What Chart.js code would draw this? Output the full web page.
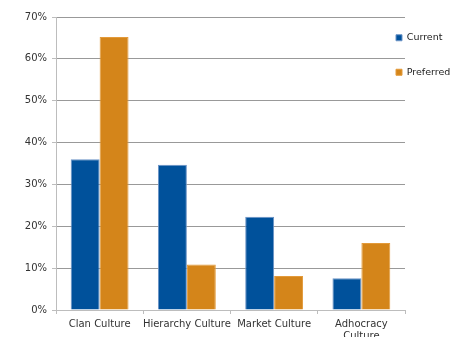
<!DOCTYPE html>
<html>
<head>
<meta charset="utf-8">
<script src="https://cdn.jsdelivr.net/npm/chart.js@4"></script>
<style>
  html, body { margin: 0; padding: 0; background: #fff; }
  #wrap { width: 450px; height: 337px; }
</style>
</head>
<body>
<div id="wrap"><canvas id="cultureChart" width="450" height="337"></canvas></div>
<script>
const categories = ['Clan Culture', 'Hierarchy Culture', 'Market Culture', ['Adhocracy', 'Culture']]
const current = [36, 34.7, 22.3, 7.6]
const preferred = [65.2, 10.9, 8.1, 16]
const yTicks = [0, 10, 20, 30, 40, 50, 60, 70]

// pull the legend back over the right edge of the plot, like the original
const legendShift = {
    id: 'legendShift',
    beforeLayout(chart) {
        const lg = chart.legend
        if (lg && !lg._wrapped) {
            const fit = lg.fit.bind(lg)
            lg.fit = function () { fit(); this.width = 45 }
            lg._wrapped = true
        }
    },
    afterLayout(chart) {
        const lg = chart.legend
        const pad = lg.options.labels.padding
        lg.left = chart.chartArea.right - 9 - pad
        lg.right = chart.width
        lg.top = 8
        lg.bottom = chart.height
    }
}

new Chart(document.getElementById('cultureChart'), {
    type: 'bar',
    data: {
        labels: categories,
        datasets: [
            {
                label: 'Current',
                data: current,
                backgroundColor: '#00519b',
                borderColor: '#6b93c6',
                borderWidth: 1
            },
            {
                label: 'Preferred',
                data: preferred,
                backgroundColor: '#d4851a',
                borderColor: '#e39a3a',
                borderWidth: 1
            }
        ]
    },
    options: {
        responsive: false,
        animation: false,
        layout: { padding: { top: 17, left: 0, right: 0, bottom: 0 } },
        datasets: { bar: { categoryPercentage: 0.663, barPercentage: 1.0 } },
        scales: {
            x: {
                offset: true,
                grid: { display: true, drawOnChartArea: false, offset: true, tickLength: 4, color: '#bdbdbd' },
                border: { color: '#bdbdbd' },
                ticks: { color: '#333', padding: 4, maxRotation: 0, autoSkip: false, font: { family: 'DejaVu Sans', size: 10 } },
                afterFit(scale) { scale.height = 27 }
            },
            y: {
                min: 0,
                max: 70,
                afterBuildTicks(scale) { scale.ticks = yTicks.map(v => ({ value: v })) },
                grid: { color: '#999', tickLength: 4, tickColor: '#bdbdbd' },
                border: { color: '#bdbdbd' },
                ticks: {
                    color: '#333',
                    padding: 5,
                    font: { family: 'DejaVu Sans', size: 10 },
                    callback: v => v + '%'
                },
                afterFit(scale) { scale.width = 56 }
            }
        },
        plugins: {
            legend: {
                position: 'right',
                align: 'start',
                labels: {
                    boxWidth: 6,
                    boxHeight: 6,
                    padding: 25,
                    color: '#222',
                    font: { family: 'DejaVu Sans', size: 9.5 }
                }
            },
            tooltip: { enabled: false }
        }
    },
    plugins: [legendShift]
})
</script>
</body>
</html>
